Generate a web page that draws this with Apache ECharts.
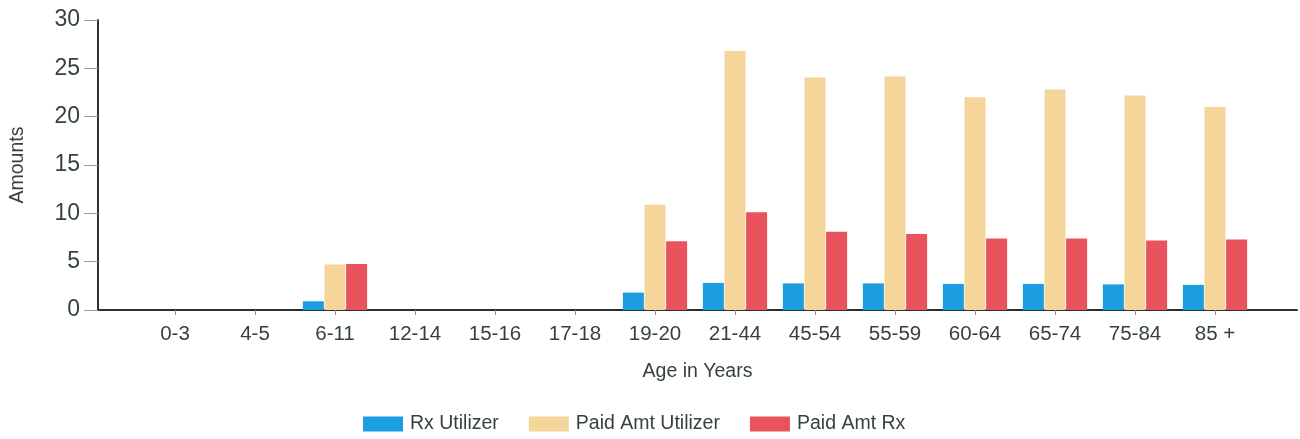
<!DOCTYPE html>
<html>
<head>
<meta charset="utf-8">
<style>
  html, body { margin: 0; padding: 0; background: #ffffff; }
  #chart { width: 1300px; height: 439px; }
</style>
<script src="https://cdn.jsdelivr.net/npm/echarts@6/dist/echarts.min.js"></script>
</head>
<body>
<div id="chart"></div>
<script>
// Age bands along the horizontal axis
const ageBands = ['0-3', '4-5', '6-11', '12-14', '15-16', '17-18', '19-20', '21-44', '45-54', '55-59', '60-64', '65-74', '75-84', '85 +'];

// Series values per age band
const rxUtilizer = [0, 0, 0.9, 0, 0, 0, 1.8, 2.8, 2.75, 2.75, 2.7, 2.7, 2.65, 2.6];
const paidAmtUtilizer = [0, 0, 4.7, 0, 0, 0, 10.9, 26.8, 24.05, 24.15, 22.0, 22.8, 22.2, 21.0];
const paidAmtRx = [0, 0, 4.75, 0, 0, 0, 7.1, 10.1, 8.1, 7.85, 7.4, 7.4, 7.2, 7.3];

// Value axis range
const yMin = 0;
const yMax = 30;
const yStep = 5;

const FONT = "'Liberation Sans', Arial, sans-serif";
const TEXT = '#34423f';

const chart = echarts.init(document.getElementById('chart'), null, { renderer: 'canvas' });

chart.setOption({
  animation: false,
  backgroundColor: '#ffffff',
  textStyle: { fontFamily: FONT, color: TEXT },
  legend: {
    left: 363,
    top: 414,
    padding: 0,
    itemWidth: 40,
    itemHeight: 15,
    itemGap: 30,
    icon: 'rect',
    textStyle: { fontFamily: FONT, fontSize: 19.5, color: TEXT, padding: [0, 0, 0, 2] },
    data: ['Rx Utilizer', 'Paid Amt Utilizer', 'Paid Amt Rx']
  },
  grid: [
    // frame: full-width axis lines
    { left: 96, right: 3, top: 20, bottom: 129 },
    // bars: category band
    { left: 135, right: 45, top: 20, bottom: 129 }
  ],
  xAxis: [
    {
      gridIndex: 0,
      type: 'value',
      min: 0,
      max: 1,
      axisLine: { show: true, lineStyle: { color: '#2b2f2e', width: 2 } },
      axisTick: { show: false },
      axisLabel: { show: false },
      splitLine: { show: false },
      name: 'Age in Years',
      nameLocation: 'middle',
      nameGap: 52,
      nameTextStyle: { fontFamily: FONT, fontSize: 19.5, color: TEXT }
    },
    {
      gridIndex: 1,
      type: 'category',
      data: ageBands,
      axisLine: { show: false },
      axisTick: { show: true, alignWithLabel: true, length: 5, lineStyle: { color: '#8a8f8e', width: 1 } },
      axisLabel: { fontFamily: FONT, fontSize: 20.5, color: TEXT, margin: 14 },
      splitLine: { show: false }
    }
  ],
  yAxis: [
    {
      gridIndex: 0,
      type: 'value',
      min: yMin,
      max: yMax,
      interval: yStep,
      axisLine: { show: true, lineStyle: { color: '#2b2f2e', width: 2 } },
      axisTick: { show: true, length: 14, lineStyle: { color: '#9a9e9d', width: 1 } },
      axisLabel: { fontFamily: FONT, fontSize: 23, color: TEXT, margin: 18 },
      splitLine: { show: false },
      name: 'Amounts',
      nameLocation: 'middle',
      nameGap: 70,
      nameTextStyle: { fontFamily: FONT, fontSize: 19.5, color: TEXT }
    },
    {
      gridIndex: 1,
      type: 'value',
      min: yMin,
      max: yMax,
      interval: yStep,
      show: false
    }
  ],
  series: [
    {
      name: 'Rx Utilizer',
      type: 'bar',
      xAxisIndex: 1,
      yAxisIndex: 1,
      data: rxUtilizer,
      barWidth: 21,
      barGap: '3%',
      itemStyle: { color: '#1b9de2' }
    },
    {
      name: 'Paid Amt Utilizer',
      type: 'bar',
      xAxisIndex: 1,
      yAxisIndex: 1,
      data: paidAmtUtilizer,
      barWidth: 21,
      barGap: '3%',
      itemStyle: { color: '#f5d59a' }
    },
    {
      name: 'Paid Amt Rx',
      type: 'bar',
      xAxisIndex: 1,
      yAxisIndex: 1,
      data: paidAmtRx,
      barWidth: 21,
      barGap: '3%',
      itemStyle: { color: '#e9535e' }
    }
  ]
});
</script>
</body>
</html>
